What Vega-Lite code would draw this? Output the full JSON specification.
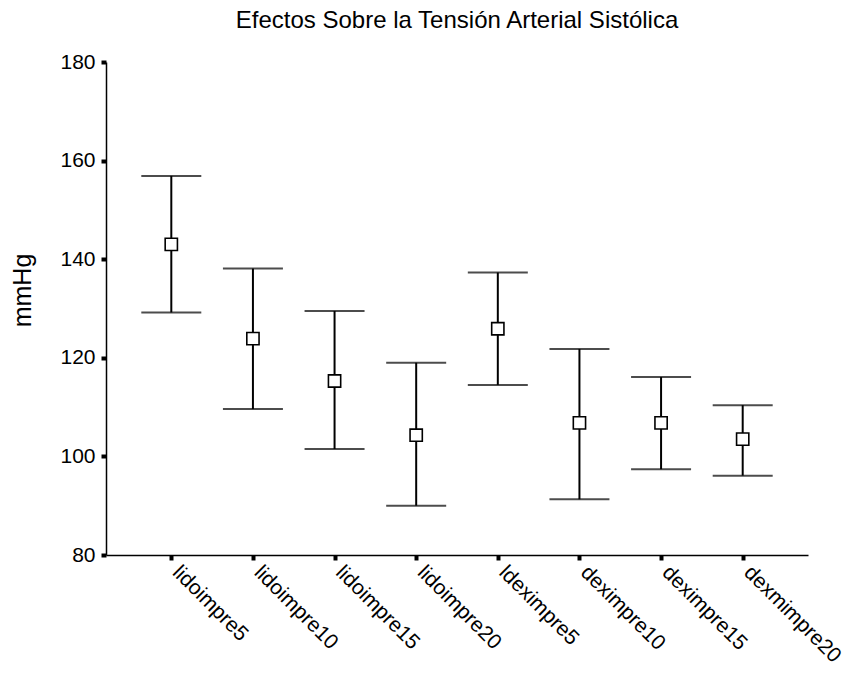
{
  "$schema": "https://vega.github.io/schema/vega-lite/v6.json",
  "autosize": {"type": "none"},
  "width": 702,
  "height": 493,
  "padding": {"left": 106, "top": 62, "right": 47, "bottom": 119},
  "background": "white",
  "title": {
    "text": "Efectos Sobre la Tensión Arterial Sistólica",
    "font": "Liberation Sans",
    "fontSize": 24,
    "fontWeight": "normal",
    "color": "black",
    "anchor": "middle",
    "offset": 18
  },
  "config": {
    "view": {"stroke": null},
    "axis": {
      "domainColor": "black",
      "domainWidth": 1.5,
      "tickColor": "black",
      "tickWidth": 4,
      "tickSize": 5,
      "grid": false,
      "labelFont": "Liberation Sans",
      "labelFontSize": 21,
      "labelColor": "black",
      "titleFont": "Liberation Sans",
      "titleColor": "black",
      "titleFontWeight": "normal"
    }
  },
  "data": {
    "values": [
      {"var": "lidoimpre5", "mean": 143.0, "lo": 129.2, "hi": 156.9},
      {"var": "lidoimpre10", "mean": 123.9, "lo": 109.6, "hi": 138.1},
      {"var": "lidoimpre15", "mean": 115.3, "lo": 101.5, "hi": 129.5},
      {"var": "lidoimpre20", "mean": 104.3, "lo": 90.0, "hi": 119.0},
      {"var": "ldeximpre5", "mean": 125.9, "lo": 114.5, "hi": 137.3},
      {"var": "deximpre10", "mean": 106.8, "lo": 91.3, "hi": 121.8},
      {"var": "deximpre15", "mean": 106.8, "lo": 97.4, "hi": 116.1},
      {"var": "dexmimpre20", "mean": 103.5, "lo": 96.1, "hi": 110.4}
    ]
  },
  "encoding": {
    "x": {
      "field": "var",
      "type": "nominal",
      "sort": null,
      "scale": {"type": "point", "padding": 0.8},
      "axis": {
        "title": null,
        "labelAngle": 45,
        "labelAlign": "left",
        "labelBaseline": "middle",
        "labelPadding": 9,
        "labelOffset": 4
      }
    }
  },
  "layer": [
    {
      "mark": {"type": "rule", "color": "black", "strokeWidth": 2},
      "encoding": {
        "y": {
          "field": "lo",
          "type": "quantitative",
          "scale": {"domain": [80, 180], "nice": false, "zero": false},
          "axis": {
            "title": "mmHg",
            "titleFontSize": 25,
            "titleX": -84,
            "titleY": 228,
            "titleAlign": "center",
            "titleBaseline": "middle",
            "titleAngle": -90,
            "values": [80, 100, 120, 140, 160, 180],
            "labelPadding": 6
          }
        },
        "y2": {"field": "hi"}
      }
    },
    {
      "mark": {"type": "tick", "color": "black", "size": 60, "thickness": 2, "orient": "horizontal"},
      "encoding": {"y": {"field": "lo", "type": "quantitative"}}
    },
    {
      "mark": {"type": "tick", "color": "black", "size": 60, "thickness": 2, "orient": "horizontal"},
      "encoding": {"y": {"field": "hi", "type": "quantitative"}}
    },
    {
      "mark": {"type": "point", "shape": "square", "filled": true, "fill": "white", "stroke": "black", "strokeWidth": 1.6, "size": 150, "opacity": 1},
      "encoding": {"y": {"field": "mean", "type": "quantitative"}}
    }
  ]
}
